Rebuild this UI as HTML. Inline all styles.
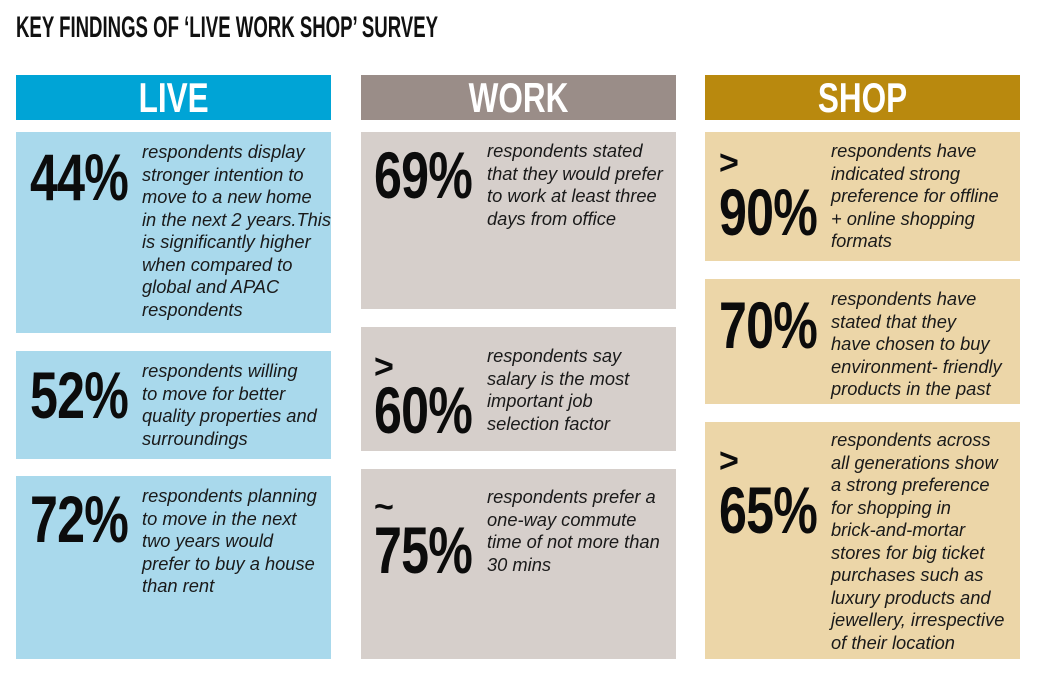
<!DOCTYPE html>
<html><head><meta charset="utf-8"><style>
*{margin:0;padding:0;box-sizing:border-box}
body{width:1038px;height:675px;background:#fff;position:relative;overflow:hidden;font-family:"Liberation Sans",sans-serif}
.a{position:absolute}
.title{left:16px;top:11px;font-weight:bold;font-size:30px;line-height:34px;transform:scaleX(0.62);transform-origin:0 0;white-space:nowrap;color:#111}
.hd{height:45px;top:75px;width:315px;color:#fff;font-weight:bold;font-size:42px;line-height:45px;text-align:center}
.hd span{display:inline-block;transform:scaleX(0.75)}
.num{font-weight:bold;font-size:66px;line-height:66px;color:#0c0c0c;transform:scaleX(0.76);transform-origin:0 0;white-space:nowrap;letter-spacing:-1px}
.sym{font-weight:bold;font-size:34px;line-height:34px;color:#0c0c0c}
.t{font-style:italic;font-size:18.3px;line-height:22.5px;color:#1a1a1a;white-space:nowrap}
</style></head><body>
<div class="a title">KEY FINDINGS OF ‘LIVE WORK SHOP’ SURVEY</div>

<div class="a hd" style="left:16px;background:#00a4d6"><span>LIVE</span></div>
<div class="a hd" style="left:361px;background:#9a8d88"><span>WORK</span></div>
<div class="a hd" style="left:705px;background:#b9890e"><span>SHOP</span></div>

<div class="a" style="left:16px;top:132px;width:315px;height:201px;background:#a9d9ec"></div>
<div class="a" style="left:16px;top:351px;width:315px;height:108px;background:#a9d9ec"></div>
<div class="a" style="left:16px;top:476px;width:315px;height:183px;background:#a9d9ec"></div>

<div class="a" style="left:361px;top:132px;width:315px;height:177px;background:#d6cfcb"></div>
<div class="a" style="left:361px;top:327px;width:315px;height:124px;background:#d6cfcb"></div>
<div class="a" style="left:361px;top:469px;width:315px;height:190px;background:#d6cfcb"></div>

<div class="a" style="left:705px;top:132px;width:315px;height:129px;background:#ecd6a8"></div>
<div class="a" style="left:705px;top:279px;width:315px;height:125px;background:#ecd6a8"></div>
<div class="a" style="left:705px;top:422px;width:315px;height:237px;background:#ecd6a8"></div>

<div class="a num" style="left:30px;top:144px">44%</div>
<div class="a t" style="left:142px;top:141px">respondents display<br>stronger intention to<br>move to a new home<br>in the next 2 years.This<br>is significantly higher<br>when compared to<br>global and APAC<br>respondents</div>

<div class="a num" style="left:30px;top:362px">52%</div>
<div class="a t" style="left:142px;top:360px">respondents willing<br>to move for better<br>quality properties and<br>surroundings</div>

<div class="a num" style="left:30px;top:486px">72%</div>
<div class="a t" style="left:142px;top:485px">respondents planning<br>to move in the next<br>two years would<br>prefer to buy a house<br>than rent</div>

<div class="a num" style="left:374px;top:142px">69%</div>
<div class="a t" style="left:487px;top:140px">respondents stated<br>that they would prefer<br>to work at least three<br>days from office</div>

<div class="a sym" style="left:374px;top:350px">&gt;</div>
<div class="a num" style="left:374px;top:377px">60%</div>
<div class="a t" style="left:487px;top:345px">respondents say<br>salary is the most<br>important job<br>selection factor</div>

<div class="a sym" style="left:374px;top:490px">~</div>
<div class="a num" style="left:374px;top:517px">75%</div>
<div class="a t" style="left:487px;top:486px">respondents prefer a<br>one-way commute<br>time of not more than<br>30 mins</div>

<div class="a sym" style="left:719px;top:146px">&gt;</div>
<div class="a num" style="left:719px;top:179px">90%</div>
<div class="a t" style="left:831px;top:140px">respondents have<br>indicated strong<br>preference for offline<br>+ online shopping<br>formats</div>

<div class="a num" style="left:719px;top:292px">70%</div>
<div class="a t" style="left:831px;top:288px">respondents have<br>stated that they<br>have chosen to buy<br>environment- friendly<br>products in the past</div>

<div class="a sym" style="left:719px;top:444px">&gt;</div>
<div class="a num" style="left:719px;top:477px">65%</div>
<div class="a t" style="left:831px;top:429px">respondents across<br>all generations show<br>a strong preference<br>for shopping in<br>brick-and-mortar<br>stores for big ticket<br>purchases such as<br>luxury products and<br>jewellery, irrespective<br>of their location</div>
</body></html>
